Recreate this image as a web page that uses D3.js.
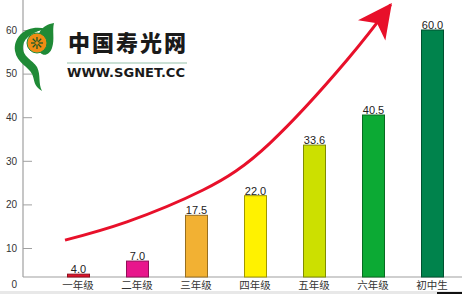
<!DOCTYPE html>
<html>
<head>
<meta charset="utf-8">
<script src="https://cdn.jsdelivr.net/npm/d3@7"></script>
<style>
  html,body{margin:0;padding:0;background:#fff;}
  svg{display:block;}
</style>
</head>
<body>
<div id="chart"></div>
<script>
// data
const grades=["一年级","二年级","三年级","四年级","五年级","六年级","初中生"];
const values=[4.0,7.0,17.5,22.0,33.6,40.5,60.0];
const barColors=["#e0142c","#e8168c","#f2b133","#fff200","#cce000","#0caa34","#00834c"];
const yTicks=[0,10,20,30,40,50,60];
// trend arrow, in (category index, value) units
const trendIdx=[-0.22,0.83,2.12,3.25,4.56,5.3];
const trendVal=[11.8,16.0,23.3,34.0,53.1,65.8];

const w=462, h=294;
const axisX=23, axisY=277;

const svg=d3.select("#chart").append("svg")
  .attr("width",w).attr("height",h);

const xBand=d3.scaleBand().domain(grades).range([48.5,461.5])
  .paddingInner(0.627).paddingOuter(0.3135);
const xIdx=d3.scaleLinear().domain([0,6])
  .range([xBand(grades[0])+xBand.bandwidth()/2, xBand(grades[6])+xBand.bandwidth()/2]);
const yScale=d3.scaleLinear().domain([0,60]).range([291.6,30]);

// bottom strip
svg.append("rect").attr("x",0).attr("y",291).attr("width",w).attr("height",3).attr("fill","#e8e8e8");
svg.append("rect").attr("x",437).attr("y",292).attr("width",25).attr("height",2).attr("fill","#111");

// y axis
const yAxis=d3.axisLeft(yScale).tickValues(yTicks).tickSize(-9).tickPadding(6);
const gy=svg.append("g").attr("transform",`translate(${axisX},0)`).call(yAxis);
gy.select(".domain").remove();
gy.selectAll(".tick line").attr("stroke","#a0a0a0");
gy.selectAll(".tick text").attr("fill","#333").style("font-family","Liberation Sans, Arial, sans-serif").style("font-size","10px");
gy.selectAll(".tick").filter(d=>d===0).attr("transform","translate(0,284.5)").select("line").remove();

svg.append("line").attr("x1",axisX).attr("x2",axisX).attr("y1",0).attr("y2",axisY)
  .attr("stroke","#a0a0a0").attr("stroke-width",1.2);
svg.append("line").attr("x1",axisX).attr("x2",w).attr("y1",axisY).attr("y2",axisY)
  .attr("stroke","#a0a0a0").attr("stroke-width",1.2);

// bars
svg.selectAll("rect.bar").data(values).enter().append("rect")
  .attr("class","bar")
  .attr("x",(d,i)=>xBand(grades[i])+0.5)
  .attr("y",d=>yScale(d))
  .attr("width",xBand.bandwidth())
  .attr("height",d=>axisY-yScale(d))
  .attr("fill",(d,i)=>barColors[i])
  .attr("stroke",(d,i)=>d3.color(barColors[i]).darker(1.3))
  .attr("stroke-width",1);

svg.selectAll("text.val").data(values).enter().append("text")
  .attr("class","val")
  .text(d=>d.toFixed(1))
  .attr("x",(d,i)=>xBand(grades[i])+xBand.bandwidth()/2+0.5)
  .attr("y",d=>yScale(d)-1)
  .attr("text-anchor","middle")
  .attr("fill","#222")
  .style("font-family","Liberation Sans, Arial, sans-serif")
  .style("font-size","11px");

// category labels
svg.selectAll("text.cat").data(grades).enter().append("text")
  .attr("class","cat")
  .text(d=>d)
  .attr("x",d=>xBand(d)+xBand.bandwidth()/2)
  .attr("y",289)
  .attr("text-anchor","middle")
  .attr("fill","#333")
  .style("font-family","Noto Sans CJK SC, sans-serif")
  .style("font-size","10.5px");

// trend arrow
const defs=svg.append("defs");
defs.append("marker").attr("id","head")
  .attr("markerUnits","userSpaceOnUse")
  .attr("viewBox","-36 -20 40 40")
  .attr("markerWidth",40).attr("markerHeight",40)
  .attr("refX",0).attr("refY",0)
  .attr("orient","auto")
  .append("path").attr("d","M2,0 L-32,-17 L-23,0 L-32,17 Z").attr("fill","#e8102a");

const trend=trendIdx.map((d,i)=>[xIdx(d),yScale(trendVal[i])]);
svg.append("path")
  .attr("d",d3.line().curve(d3.curveNatural)(trend))
  .attr("fill","none")
  .attr("stroke","#e8102a")
  .attr("stroke-width",3)
  .attr("marker-end","url(#head)");

// logo
const logo=svg.append("g");
logo.append("path")
  .attr("d","M46,29 C28,24 13,36 15,51 C17,63 29,67 32,74 C35,80 33,86 42,91 C38,83 41,75 37,67 C33,60 22,57 23,46 C24,37 35,31 46,29 Z")
  .attr("fill","#1f8a36");
logo.append("path")
  .attr("d","M54,23 C42,25 35,34 38,48 C40,57 49,57 52,48 C55,39 52,31 54,23 Z")
  .attr("fill","#1f8a36");
logo.append("circle").attr("cx",37).attr("cy",43).attr("r",10)
  .attr("fill","#f08c14").attr("stroke","#1f8a36").attr("stroke-width",1);
d3.range(8).forEach(k=>{
  const a=k*Math.PI/4;
  logo.append("line")
    .attr("x1",37).attr("y1",43)
    .attr("x2",37+6*Math.cos(a)).attr("y2",43+6*Math.sin(a))
    .attr("stroke","#1c5a24").attr("stroke-width",1.3);
});
logo.append("circle").attr("cx",37).attr("cy",43).attr("r",1.8).attr("fill","#f08c14");

logo.append("text").text("中国寿光网")
  .attr("x",68).attr("y",51)
  .attr("textLength",118).attr("lengthAdjust","spacing")
  .attr("fill","#1a1a1a")
  .style("font-family","Noto Sans CJK SC, sans-serif")
  .style("font-weight","900")
  .style("font-size","22px");
logo.append("line").attr("x1",67).attr("x2",187).attr("y1",63).attr("y2",63)
  .attr("stroke","#b8d6c6").attr("stroke-width",1.5);
logo.append("text").text("WWW.SGNET.CC")
  .attr("x",67).attr("y",77)
  .attr("textLength",118).attr("lengthAdjust","spacingAndGlyphs")
  .attr("fill","#1a1a1a")
  .style("font-family","DejaVu Sans, sans-serif")
  .style("font-weight","bold")
  .style("font-size","12px");
</script>
</body>
</html>
